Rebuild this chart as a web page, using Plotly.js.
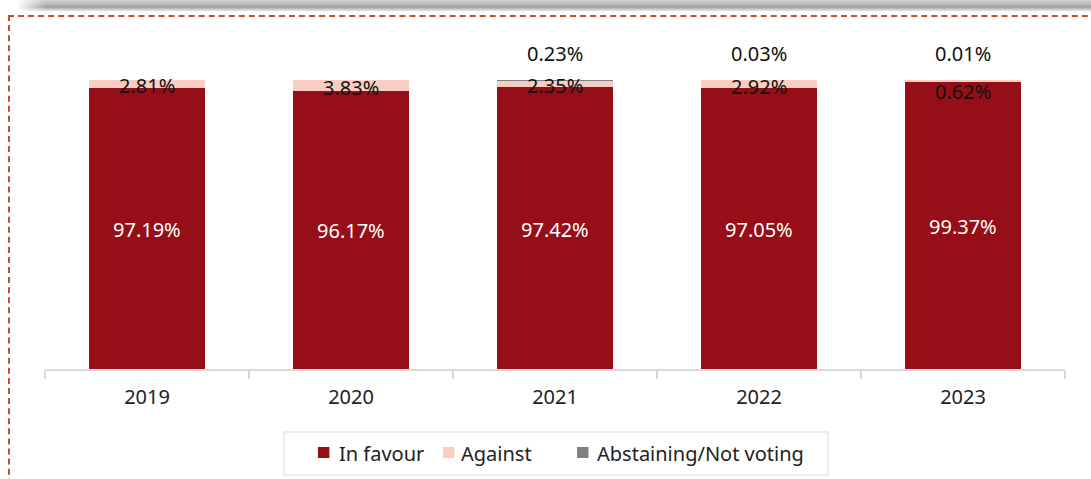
<!DOCTYPE html>
<html><head><meta charset="utf-8">
<script src="https://cdn.plot.ly/plotly-3.0.1.min.js"></script>
<style>
html,body{margin:0;padding:0;background:#fff;width:1091px;height:479px;overflow:hidden;font-family:"Noto Sans",sans-serif;}
#shadow{position:absolute;left:16px;top:0;width:1100px;height:12px;
  background:linear-gradient(to bottom,#d2d2d2 0,#b4b4b4 5px,#9c9c9c 7px,#d8d8d8 10px,#ffffff 12px);
  -webkit-mask-image:linear-gradient(to right,transparent 0,#000 30px);mask-image:linear-gradient(to right,transparent 0,#000 30px);}
#frame{position:absolute;left:8px;top:15px;width:1120px;height:500px;border:2px dashed #C0502F;box-sizing:border-box;}
#chart{position:absolute;left:0;top:0;width:1091px;height:479px;}
</style></head>
<body>
<div id="shadow"></div>
<div id="frame"></div>
<div id="chart"></div>
<script>
const years = ['2019','2020','2021','2022','2023'];
const inFavour = [97.19, 96.17, 97.42, 97.05, 99.37];
const against = [2.81, 3.83, 2.35, 2.92, 0.62];
const abstaining = [0, 0, 0.23, 0.03, 0.01];
const seriesNames = ['In favour', 'Against', 'Abstaining/Not voting'];
const seriesColors = ['#960E18', '#F8CDC2', '#808080'];

const fmt = v => v.toFixed(2) + '%';
const fontFam = '"Noto Sans", sans-serif';

const traces = [
  {type:'bar', name:seriesNames[0], x:years, y:inFavour, marker:{color:seriesColors[0]}, hoverinfo:'none'},
  {type:'bar', name:seriesNames[1], x:years, y:against, marker:{color:seriesColors[1]}, hoverinfo:'none'},
  {type:'bar', name:seriesNames[2], x:years, y:abstaining, marker:{color:seriesColors[2]}, hoverinfo:'none'}
];

const annotations = [];
years.forEach((yr,i)=>{
  const top = inFavour[i]+against[i]+abstaining[i];
  annotations.push({x:i, y:inFavour[i]/2, text:fmt(inFavour[i]), showarrow:false,
    font:{size:20, color:'#ffffff', family:fontFam}, yshift:-1});
  const againstY = against[i] < 1 ? 96.6 : inFavour[i]+against[i]/2;
  annotations.push({x:i, y:againstY, text:fmt(against[i]), showarrow:false,
    font:{size:20, color:'#111', family:fontFam}, yshift:-2});
  if (abstaining[i] > 0) {
    annotations.push({x:i, y:top, text:fmt(abstaining[i]), showarrow:false,
      font:{size:20, color:'#111', family:fontFam}, yshift:26});
  }
});

// manual legend (paper coordinates)
const shapes = [
  {type:'rect', xref:'paper', yref:'paper', x0:0.2343, x1:0.7676, y0:-0.3630, y1:-0.2158,
   line:{color:'#ececec', width:2}, fillcolor:'rgba(0,0,0,0)'}
];
const legSymX = [0.2676, 0.3902, 0.5216];
const legTxtX = [0.2863, 0.4059, 0.5392];
seriesNames.forEach((nm,k)=>{
  shapes.push({type:'rect', xref:'paper', yref:'paper', x0:legSymX[k], x1:legSymX[k]+0.0112,
    y0:-0.3048, y1:-0.2671, line:{width:0}, fillcolor:seriesColors[k]});
  annotations.push({xref:'paper', yref:'paper', x:legTxtX[k], y:-0.2877, xanchor:'left', yanchor:'middle',
    text:nm, showarrow:false, font:{size:20, color:'#222', family:fontFam}});
});

const layout = {
  width:1091, height:479,
  margin:{l:45, r:26, t:77, b:110},
  paper_bgcolor:'rgba(0,0,0,0)', plot_bgcolor:'rgba(0,0,0,0)',
  barmode:'stack', bargap:0.436,
  font:{family:fontFam, color:'#222'},
  xaxis:{type:'category', range:[-0.5,4.5], showline:true, linecolor:'#d9d9d9', linewidth:2, ticks:'outside', tickson:'boundaries',
    ticklen:8, tickcolor:'#d9d9d9', tickwidth:2, ticklabelstandoff:9, tickfont:{size:20, color:'#222'}, showgrid:false, fixedrange:true},
  yaxis:{range:[0,101], visible:false, fixedrange:true},
  showlegend:false,
  shapes:shapes,
  annotations:annotations
};

Plotly.newPlot('chart', traces, layout, {displayModeBar:false, staticPlot:true});
</script>
</body></html>
